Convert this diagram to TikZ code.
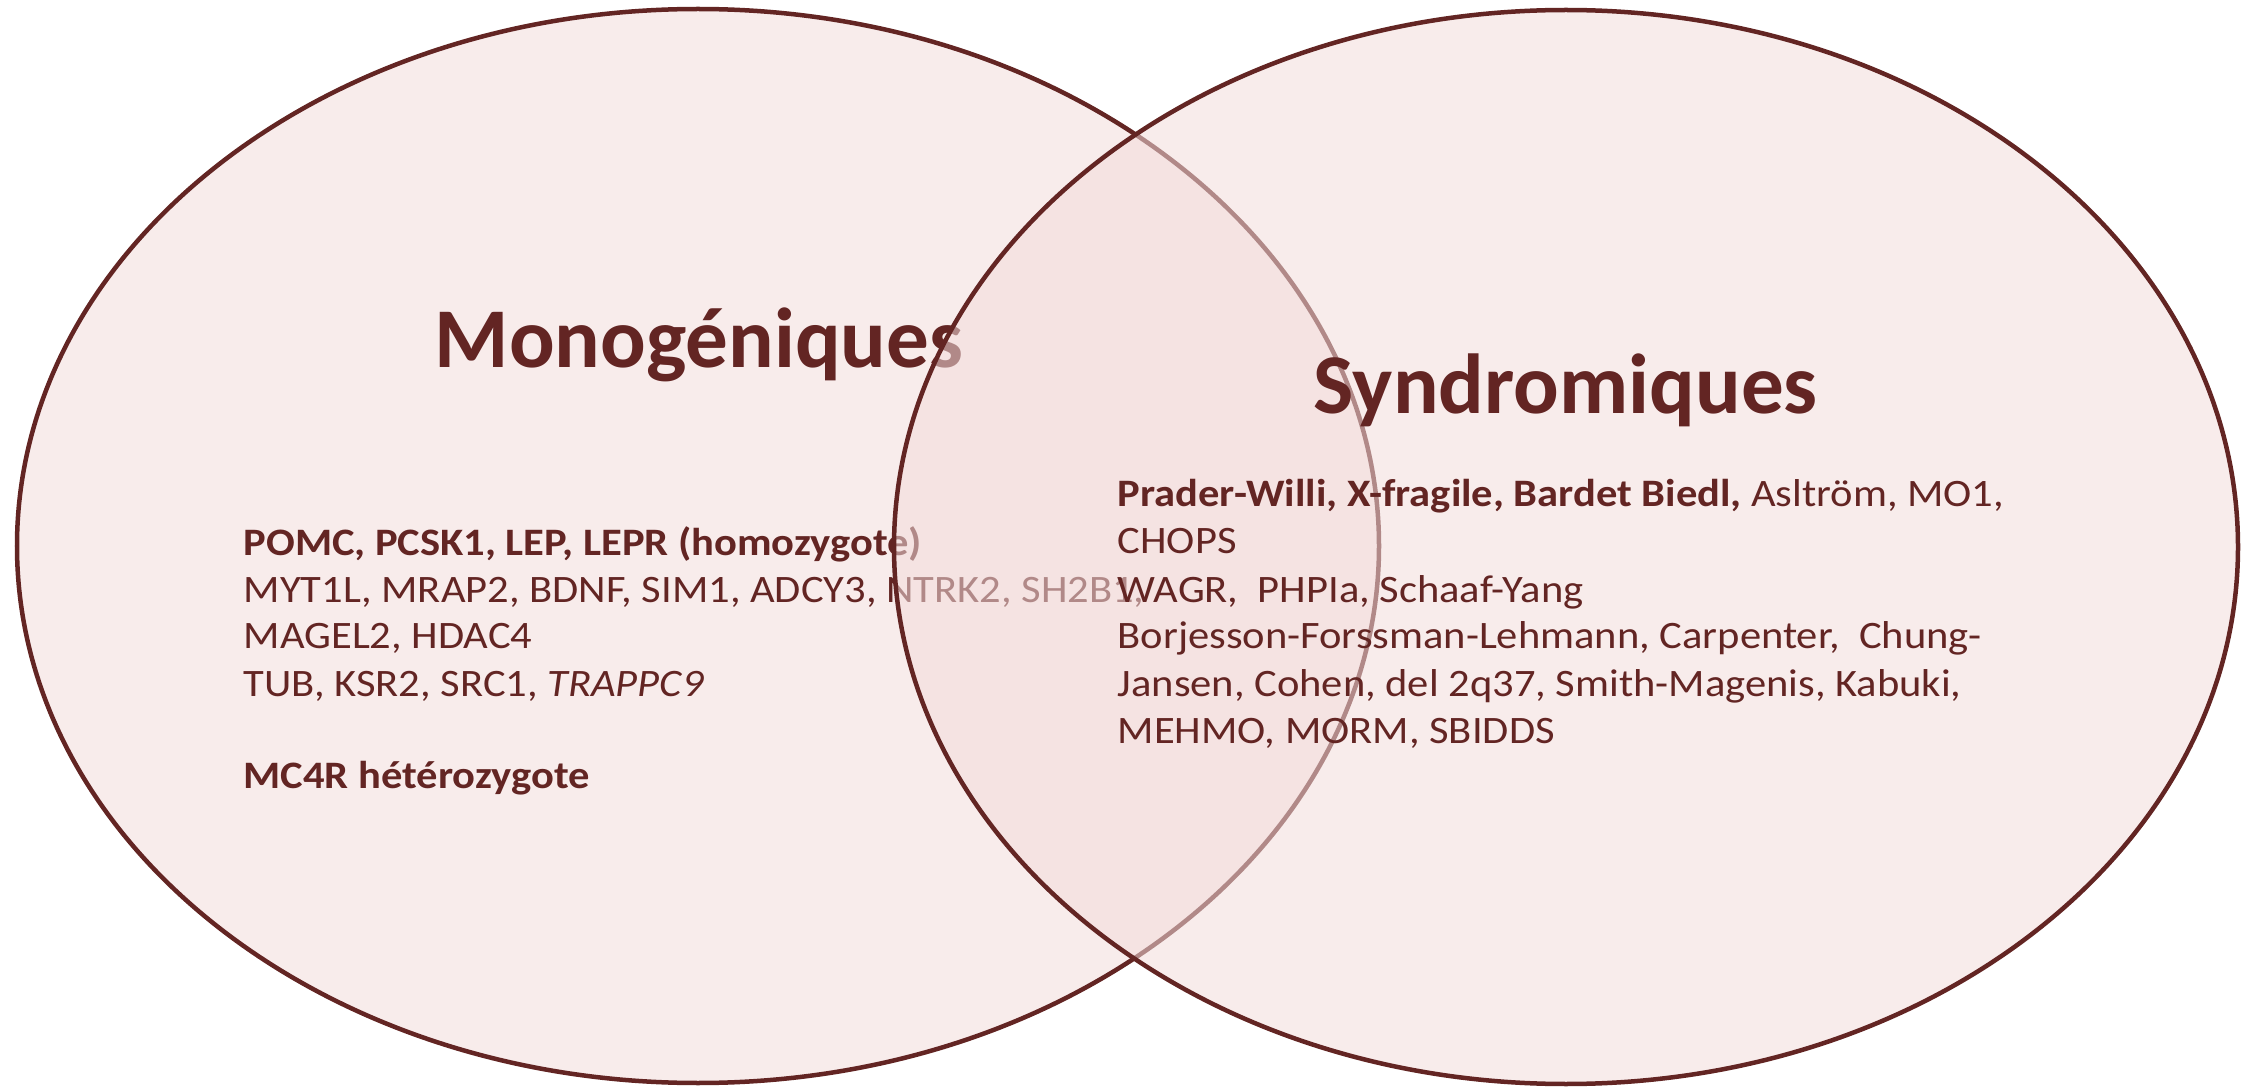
\documentclass[tikz,border=0pt]{standalone}
\usepackage{fontspec}
\setmainfont{Carlito}[FakeStretch=1.095]
\newfontfamily\titlefont{Carlito}
\definecolor{vdark}{RGB}{99,37,35}
\definecolor{vfill}{RGB}{242,220,219}
\tikzset{
  venn/.style={fill=vfill, fill opacity=0.55, draw=none},
  vennline/.style={draw=vdark, line width=1.28pt},
  ttl/.style={anchor=base west, inner sep=0pt, text=vdark, font=\titlefont\fontsize{24.2pt}{29pt}\selectfont\bfseries},
  txt/.style={anchor=base west, inner sep=0pt, text=vdark, font=\fontsize{11.05pt}{13.3pt}\selectfont},
}
\begin{document}
\begin{tikzpicture}[x=0.01cm, y=-0.01cm]
\useasboundingbox (0,0) rectangle (2247,1088);
% left set
\path[venn] (698,546) ellipse [x radius=681, y radius=537];
\path[vennline] (698,546) ellipse [x radius=681, y radius=537];
\node[ttl] (mtitle) at (434,367) {Monogéniques};
\node[txt] (m1) at (243,555) {\textbf{POMC, PCSK1, LEP, LEPR (homozygote)}};
\node[txt] (m2) at (243,602) {MYT1L, MRAP2, BDNF, SIM1, ADCY3, NTRK2, SH2B1,};
\node[txt] (m3) at (243,649) {MAGEL2, HDAC4};
\node[txt] (m4) at (243,696) {TUB, KSR2, SRC1, \textit{TRAPPC9}};
\node[txt] (m5) at (243,788) {\textbf{MC4R hétérozygote}};
% right set
\path[venn] (1566,547) ellipse [x radius=672, y radius=537];
\path[vennline] (1566,547) ellipse [x radius=672, y radius=537];
\node[ttl] (stitle) at (1313,413) {Syndromiques};
\node[txt] (s1) at (1117,507) {\textbf{Prader-Willi, X-fragile, Bardet Biedl,} Asltröm, MO1,};
\node[txt] (s2) at (1117,554) {CHOPS};
\node[txt] (s3) at (1117,602) {WAGR,\ \ PHPIa, Schaaf-Yang};
\node[txt] (s4) at (1117,649) {Borjesson-Forssman-Lehmann, Carpenter,\ \ Chung-};
\node[txt] (s5) at (1117,696) {Jansen, Cohen, del 2q37, Smith-Magenis, Kabuki,};
\node[txt] (s6) at (1117,743) {MEHMO, MORM, SBIDDS};
\end{tikzpicture}
\end{document}
